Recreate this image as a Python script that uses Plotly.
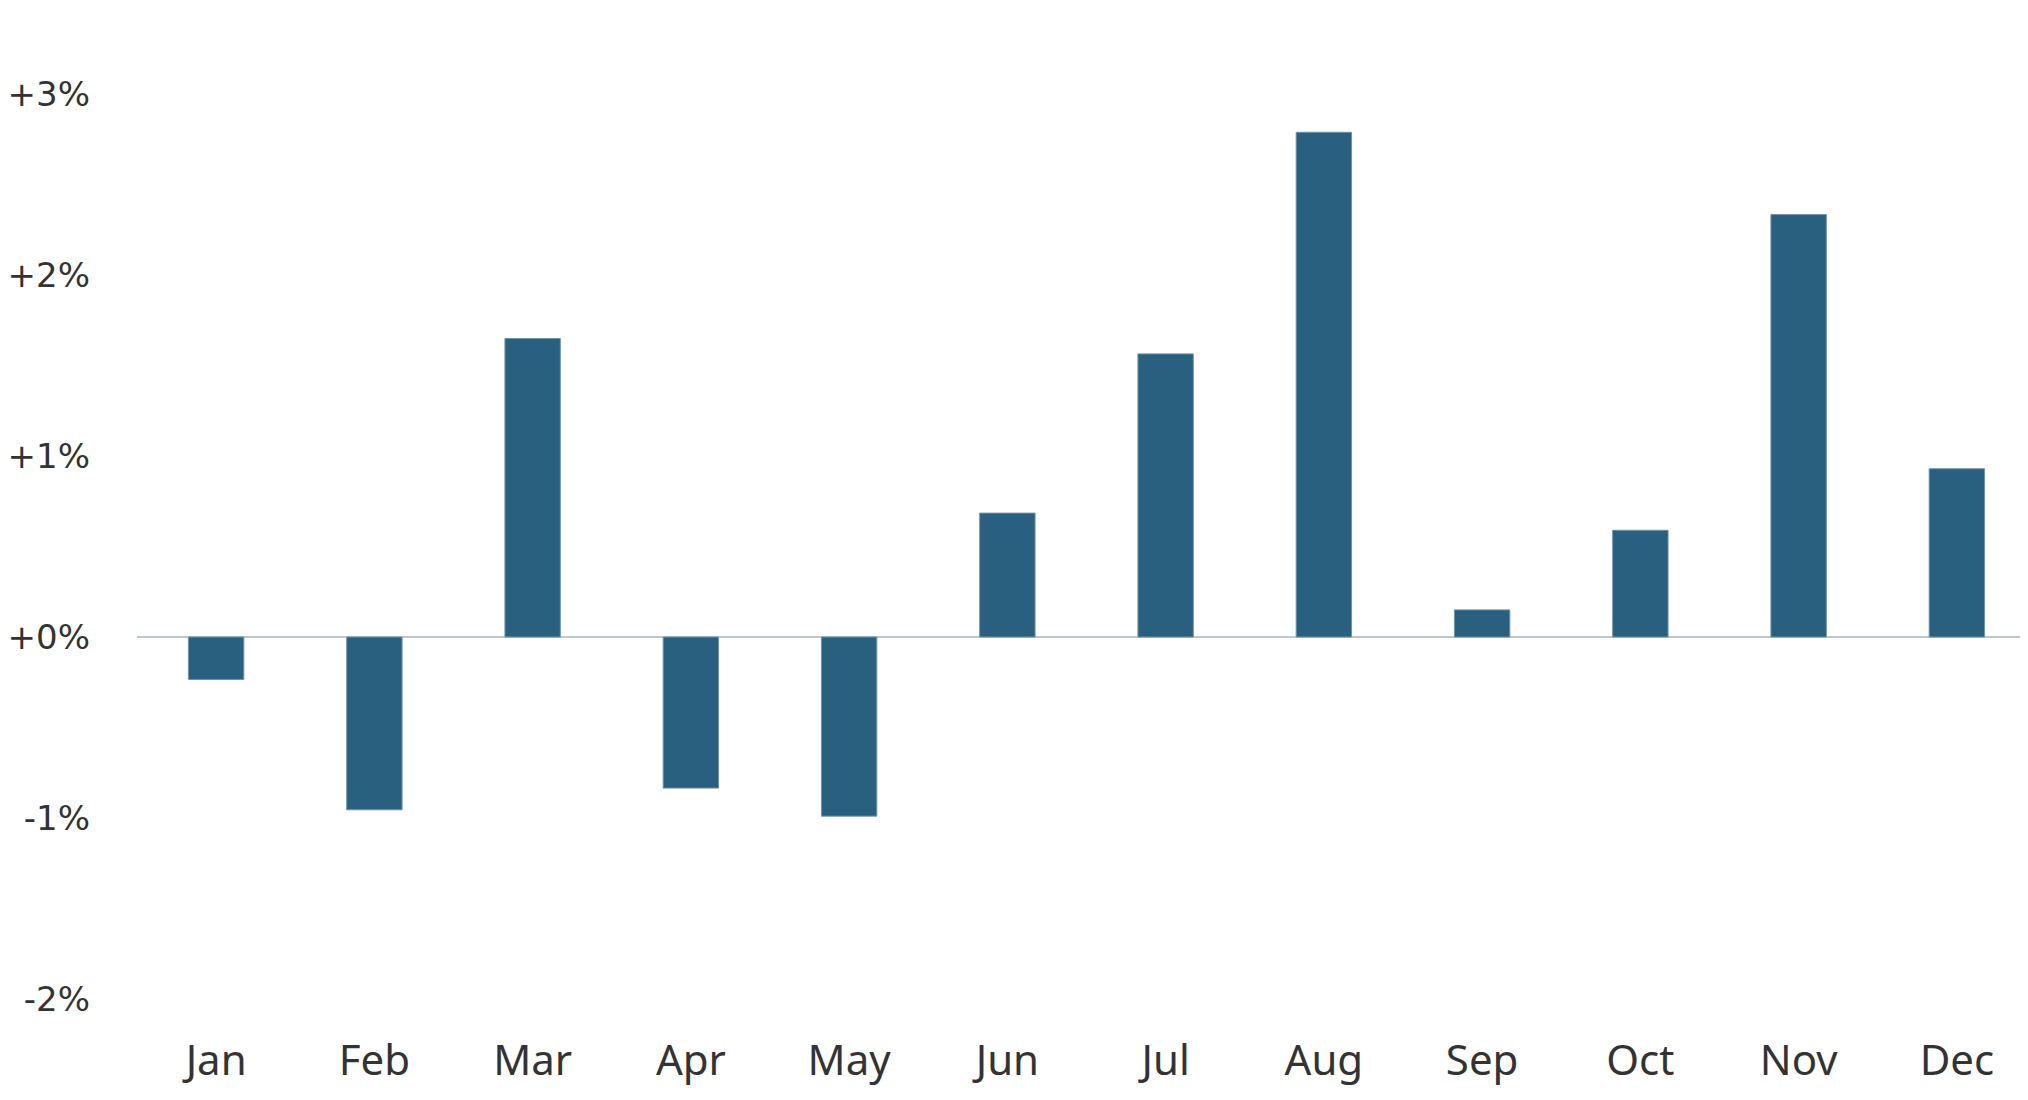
import plotly.graph_objects as go

months = ["Jan", "Feb", "Mar", "Apr", "May", "Jun", "Jul", "Aug", "Sep", "Oct", "Nov", "Dec"]
change_pct = [-0.235, -0.955, 1.65, -0.835, -0.99, 0.685, 1.565, 2.79, 0.15, 0.59, 2.335, 0.93]
y_tick_vals = [-2, -1, 0, 1, 2, 3]
y_tick_text = ["-2%", "-1%", "+0%", "+1%", "+2%", "+3%"]

fig = go.Figure(
    go.Bar(
        x=months,
        y=change_pct,
        marker=dict(color="#29607f", line=dict(color="#6f93a8", width=1)),
        width=0.35,
    )
)

fig.update_layout(
    width=2028,
    height=1100,
    margin=dict(l=129, r=0, t=32, b=82),
    paper_bgcolor="white",
    plot_bgcolor="white",
    showlegend=False,
    font=dict(family="Noto Sans", color="#333333"),
)
fig.update_xaxes(
    range=[-0.5, 11.5],
    showgrid=False,
    showline=False,
    ticks="",
    automargin=False,
    tickfont=dict(size=42, color="#333333"),
    ticklabelstandoff=6,
)
fig.update_yaxes(
    range=[-2.15, 3.3],
    tickvals=y_tick_vals,
    ticktext=y_tick_text,
    showgrid=False,
    showline=False,
    zeroline=True,
    zerolinecolor="#b9c9d0",
    zerolinewidth=2,
    ticks="",
    automargin=False,
    tickfont=dict(family="DejaVu Sans", size=34, color="#333333"),
    ticklabelstandoff=46,
)

fig.write_html("out.html")
